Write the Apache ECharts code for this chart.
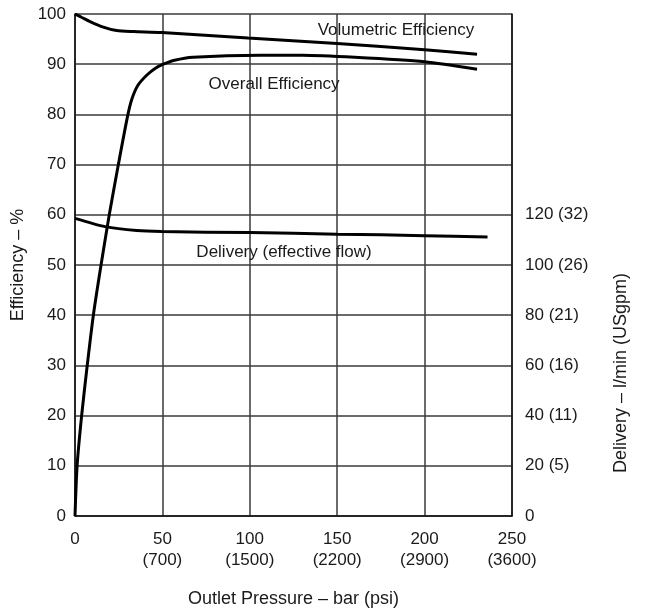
<!DOCTYPE html>
<html>
<head>
<meta charset="utf-8">
<script src="https://cdn.jsdelivr.net/npm/echarts@6/dist/echarts.min.js"></script>
<style>
  html, body { margin: 0; padding: 0; background: #fff; }
  #myChart { width: 647px; height: 615px; }
</style>
</head>
<body>
<div id="myChart"></div>
<script type="text/javascript">

  // x axis ticks (bar) and the psi equivalents printed under them
  var barTicks = [0, 50, 100, 150, 200, 250];
  var psiLabels = ['', '(700)', '(1500)', '(2200)', '(2900)', '(3600)'];

  // right axis labels, l/min -> USgpm
  var flowTicks = [0, 20, 40, 60, 80, 100, 120];
  var gpmLabels = ['', '(5)', '(11)', '(16)', '(21)', '(26)', '(32)'];

  // curves (pressure in bar)
  var volPressure = [0, 4, 8.6, 16.2, 23.8, 33.4, 49.6, 99, 150, 200, 230];
  var volEff = [100, 99.3, 98.5, 97.4, 96.7, 96.5, 96.3, 95.2, 94.1, 92.9, 92];

  var overallPressure = [0, 1.2, 3.8, 7, 10.5, 14.9, 19.6, 24.8, 30, 32.5, 36, 41, 46, 50.5, 57, 67.5, 106, 130, 160, 200, 230];
  var overallEff = [0, 10, 20, 30, 40, 50, 60, 70, 79.5, 83, 85.8, 87.8, 89.2, 90, 90.8, 91.4, 91.8, 91.8, 91.4, 90.5, 89];

  var deliveryPressure = [0, 17.2, 35.3, 49.6, 100, 150, 200, 236];
  var deliveryFlow = [118.6, 115.3, 113.7, 113.3, 112.9, 112.3, 111.7, 111.2];

  var font = '"Liberation Sans", Arial, sans-serif';
  var fontSize = 17;
  var textColor = '#1a1a1a';
  var gridColor = '#3a3a3a';

  function pairs(xs, ys) {
    return xs.map(function (x, i) { return [x, ys[i]]; });
  }

  function curveLabel(text, coord) {
    return {
      symbol: 'circle',
      symbolSize: 1,
      silent: true,
      itemStyle: { color: 'rgba(0,0,0,0)' },
      data: [{
        coord: coord,
        label: {
          show: true,
          position: 'inside',
          formatter: text,
          color: textColor,
          fontFamily: font,
          fontSize: fontSize
        }
      }]
    };
  }

  var chartDom = document.getElementById('myChart');
  var myChart = echarts.init(chartDom);

  var option = {
    backgroundColor: '#fff',
    animation: false,
    grid: { left: 75, right: 135, top: 14, bottom: 99 },
    xAxis: {
      type: 'value',
      min: 0,
      max: 250,
      interval: 50,
      name: 'Outlet Pressure – bar (psi)',
      nameLocation: 'middle',
      nameGap: 74,
      nameTextStyle: { color: textColor, fontFamily: font, fontSize: 18 },
      axisLine: { show: true, lineStyle: { color: '#111', width: 1.5 } },
      axisTick: { show: false },
      splitLine: { show: true, lineStyle: { color: gridColor, width: 1.5 } },
      axisLabel: {
        margin: 13,
        color: textColor,
        fontFamily: font,
        fontSize: fontSize,
        lineHeight: 21,
        formatter: function (v) {
          var i = barTicks.indexOf(v);
          if (i < 0) return '';
          return psiLabels[i] ? v + '\n' + psiLabels[i] : String(v);
        }
      }
    },
    yAxis: [
      {
        type: 'value',
        min: 0,
        max: 100,
        interval: 10,
        name: 'Efficiency – %',
        nameLocation: 'middle',
        nameRotate: 90,
        nameGap: 48,
        nameTextStyle: { color: textColor, fontFamily: font, fontSize: 18 },
        axisLine: { show: true, lineStyle: { color: '#111', width: 1.5 } },
        axisTick: { show: false },
        splitLine: { show: true, lineStyle: { color: gridColor, width: 1.5 } },
        axisLabel: { margin: 9, color: textColor, fontFamily: font, fontSize: fontSize }
      },
      {
        type: 'value',
        position: 'right',
        min: 0,
        max: 200,
        interval: 20,
        name: 'Delivery – l/min (USgpm)',
        nameLocation: 'middle',
        nameRotate: 90,
        nameGap: 100,
        nameTextStyle: {
          color: textColor, fontFamily: font, fontSize: 18,
          padding: [0, 216, 0, 0]
        },
        axisLine: { show: true, lineStyle: { color: '#111', width: 1.5 } },
        axisTick: { show: false },
        splitLine: { show: false },
        axisLabel: {
          margin: 13,
          color: textColor,
          fontFamily: font,
          fontSize: fontSize,
          formatter: function (v) {
            var i = flowTicks.indexOf(v);
            if (i < 0) return '';
            return gpmLabels[i] ? v + ' ' + gpmLabels[i] : String(v);
          }
        }
      }
    ],
    series: [
      {
        name: 'Volumetric Efficiency',
        type: 'line',
        yAxisIndex: 0,
        data: pairs(volPressure, volEff),
        smooth: 0.25,
        symbol: 'none',
        lineStyle: { color: '#000', width: 3 },
        markPoint: curveLabel('Volumetric Efficiency', [183.6, 96.8])
      },
      {
        name: 'Overall Efficiency',
        type: 'line',
        yAxisIndex: 0,
        data: pairs(overallPressure, overallEff),
        smooth: 0.25,
        symbol: 'none',
        lineStyle: { color: '#000', width: 3 },
        markPoint: curveLabel('Overall Efficiency', [113.9, 85.9])
      },
      {
        name: 'Delivery (effective flow)',
        type: 'line',
        yAxisIndex: 1,
        data: pairs(deliveryPressure, deliveryFlow),
        smooth: 0.25,
        symbol: 'none',
        lineStyle: { color: '#000', width: 3 },
        markPoint: curveLabel('Delivery (effective flow)', [119.6, 105.2])
      }
    ]
  };

  option && myChart.setOption(option);
</script>
</body>
</html>
